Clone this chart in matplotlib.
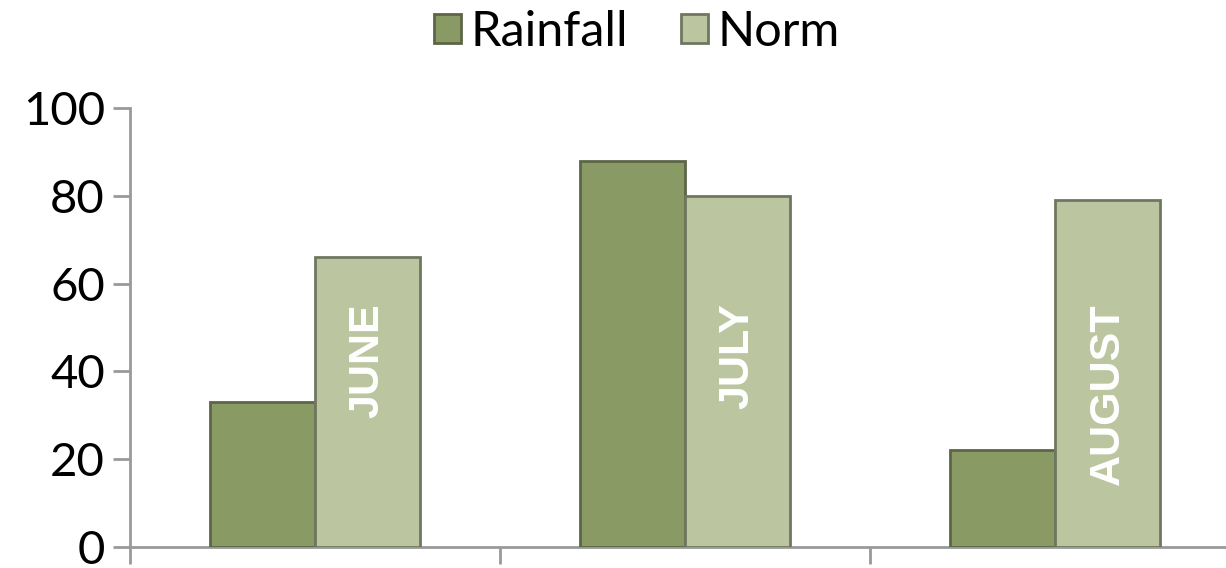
import numpy as np
import matplotlib.pyplot as plt

months = ['JUNE', 'JULY', 'AUGUST']
rainfall = [33, 88, 22]
norm = [66, 80, 79]
y_ticks = [0, 20, 40, 60, 80, 100]

# Figure setup
fig = plt.figure(figsize=(12.26, 5.68), dpi=100)
ax = fig.add_axes([130 / 1226, 21 / 568, 1110 / 1226, 439 / 568])

x = np.arange(len(months))
w = 0.284
rain_bars = ax.bar(x - w / 2, rainfall, w, color='#8a9a64', edgecolor='#5c6646',
                   linewidth=2, label='Rainfall', zorder=3)
norm_bars = ax.bar(x + w / 2, norm, w, color='#bbc6a0', edgecolor='#6f7760',
                   linewidth=2, label='Norm', zorder=3)

# Month names written inside the norm bars
for i, name in enumerate(months):
    ax.text(x[i] + w / 2, 55.5, name, rotation=90, ha='center', va='top',
            color='white', fontsize=31, fontweight='bold',
            family='Liberation Sans', zorder=4)

# Axes styling
ax.set_xlim(-0.5, 2.5)
ax.set_ylim(0, 100)
ax.set_yticks(y_ticks)
ax.set_xticks([])
ax.set_xticks([-0.5, 0.5, 1.5, 2.5], minor=True)
ax.tick_params(axis='x', which='minor', length=12, width=2, color='#999999')
ax.tick_params(axis='y', length=12, width=2, color='#999999', labelsize=34, pad=6)
for lab in ax.get_yticklabels():
    lab.set_family('Lato')
for side in ['top', 'right']:
    ax.spines[side].set_visible(False)
for side in ['left', 'bottom']:
    ax.spines[side].set_color('#999999')
    ax.spines[side].set_linewidth(2)

# Legend at the top
fig.legend(loc='center', bbox_to_anchor=(637 / 1226, 1 - 32 / 568), ncol=2,
           frameon=False, prop={'family': 'Lato', 'size': 35},
           handlelength=0.55, handleheight=0.55, handletextpad=0.2, columnspacing=1.1)

fig.savefig('out.png', dpi=100)
